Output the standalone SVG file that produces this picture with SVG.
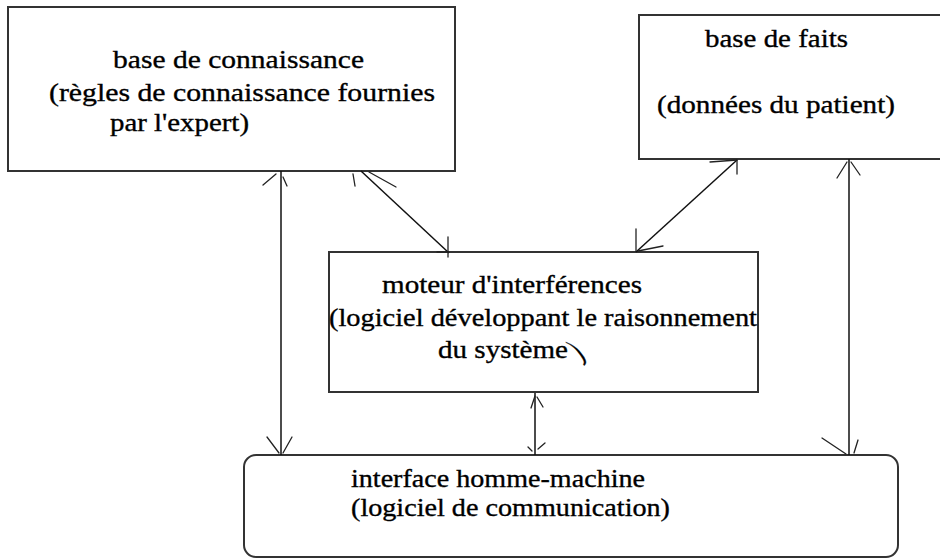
<svg xmlns="http://www.w3.org/2000/svg" width="940" height="559" viewBox="0 0 940 559">
  <style>
    .box { fill: #ffffff; stroke: #333333; stroke-width: 2; }
    .lbl { fill: #000000; stroke: #000000; stroke-width: 0.35; font-family: 'Liberation Serif', 'Times New Roman', 'DejaVu Serif', serif; font-size: 26px; }
    .wire { stroke: #111111; stroke-width: 1.5; fill: none; }
    .head { stroke: #222222; stroke-width: 1.3; fill: none; stroke-linecap: round; }
  </style>
  <rect width="940" height="559" fill="#ffffff"/>

  <!-- knowledge base -->
  <g id="base-connaissance">
    <rect class="box" x="8" y="7" width="447" height="164"/>
    <text class="lbl" x="113" y="68" textLength="251" lengthAdjust="spacingAndGlyphs">base de connaissance</text>
    <text class="lbl" x="49" y="101" textLength="386" lengthAdjust="spacingAndGlyphs">(règles de connaissance fournies</text>
    <text class="lbl" x="110" y="131" textLength="139" lengthAdjust="spacingAndGlyphs">par l'expert)</text>
  </g>

  <!-- fact base -->
  <g id="base-faits">
    <rect class="box" x="639" y="15" width="310" height="144"/>
    <text class="lbl" x="705" y="47" textLength="143" lengthAdjust="spacingAndGlyphs">base de faits</text>
    <text class="lbl" x="657" y="113" textLength="238" lengthAdjust="spacingAndGlyphs">(données du patient)</text>
  </g>

  <!-- inference engine -->
  <g id="moteur">
    <rect class="box" x="329" y="252" width="429" height="140"/>
    <text class="lbl" x="382" y="293" textLength="260" lengthAdjust="spacingAndGlyphs">moteur d'interférences</text>
    <text class="lbl" x="329" y="326" textLength="428" lengthAdjust="spacingAndGlyphs">(logiciel développant le raisonnement</text>
    <text class="lbl" x="438" y="358" textLength="130" lengthAdjust="spacingAndGlyphs">du système</text>
    <text class="lbl" transform="translate(579,360) skewX(38)">)</text>
  </g>

  <!-- user interface -->
  <g id="interface">
    <rect class="box" x="244" y="455" width="654" height="102" rx="12" ry="12"/>
    <text class="lbl" x="351" y="487" textLength="294" lengthAdjust="spacingAndGlyphs">interface homme-machine</text>
    <text class="lbl" x="351" y="516" textLength="319" lengthAdjust="spacingAndGlyphs">(logiciel de communication)</text>
  </g>

  <!-- connectors with hand-drawn open arrowheads at both ends -->
  <g id="connectors">
    <!-- knowledge base <-> interface -->
    <line class="wire" x1="281" y1="171" x2="281" y2="455"/>
    <line class="head" x1="263" y1="185" x2="276" y2="174"/>
    <line class="head" x1="283" y1="177" x2="287" y2="186"/>
    <line class="head" x1="267" y1="437" x2="279" y2="453"/>
    <line class="head" x1="283" y1="453" x2="292" y2="437"/>

    <!-- knowledge base <-> engine -->
    <line class="wire" x1="361" y1="171" x2="449" y2="253"/>
    <line class="head" x1="353" y1="174" x2="355" y2="186"/>
    <line class="head" x1="369" y1="172" x2="396" y2="187"/>
    <line class="head" x1="448" y1="237" x2="448" y2="257"/>
    <line class="head" x1="437" y1="252" x2="449" y2="252"/>

    <!-- fact base <-> engine -->
    <line class="wire" x1="737" y1="160" x2="636" y2="252"/>
    <line class="head" x1="710" y1="162" x2="737" y2="160"/>
    <line class="head" x1="737" y1="160" x2="737" y2="174"/>
    <line class="head" x1="636" y1="229" x2="636" y2="251"/>
    <line class="head" x1="638" y1="251" x2="663" y2="246"/>

    <!-- fact base <-> interface -->
    <line class="wire" x1="849" y1="159" x2="849" y2="455"/>
    <line class="head" x1="837" y1="178" x2="847" y2="162"/>
    <line class="head" x1="851" y1="162" x2="860" y2="175"/>
    <line class="head" x1="822" y1="438" x2="846" y2="454"/>
    <line class="head" x1="858" y1="440" x2="854" y2="453"/>

    <!-- engine <-> interface -->
    <line class="wire" x1="535" y1="393" x2="535" y2="455"/>
    <line class="head" x1="531" y1="408" x2="535" y2="396"/>
    <line class="head" x1="537" y1="397" x2="543" y2="407"/>
    <line class="head" x1="528" y1="447" x2="532" y2="451"/>
    <line class="head" x1="538" y1="449" x2="545" y2="443"/>
  </g>
</svg>
